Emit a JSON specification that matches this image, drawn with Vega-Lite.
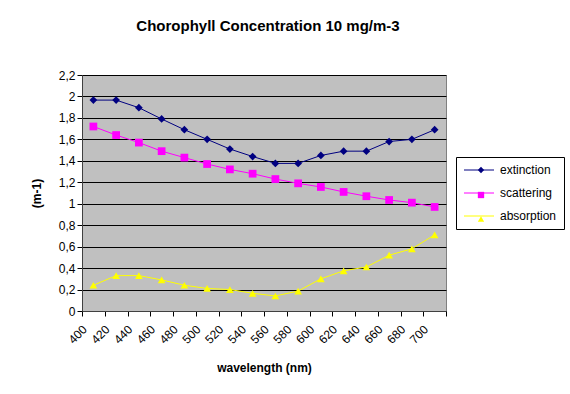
{
  "$schema": "https://vega.github.io/schema/vega-lite/v6.json",
  "width": 364,
  "height": 236,
  "autosize": {"type": "none"},
  "padding": {"left": 82, "top": 75, "right": 124, "bottom": 83},
  "background": "white",
  "title": {
    "text": "Chorophyll Concentration 10 mg/m-3",
    "font": "Liberation Sans",
    "fontSize": 15,
    "fontWeight": "bold",
    "color": "black",
    "anchor": "middle",
    "offset": 35,
    "dx": 4
  },
  "config": {
    "font": "Liberation Sans",
    "view": {"fill": "#C0C0C0", "stroke": "#808080", "strokeWidth": 1},
    "axis": {
      "labelFont": "Liberation Sans",
      "labelFontSize": 12,
      "labelColor": "black",
      "titleFont": "Liberation Sans",
      "titleFontSize": 12,
      "titleFontWeight": "bold",
      "titleColor": "black",
      "tickColor": "black",
      "domainColor": "#404040",
      "tickSize": 5
    }
  },
  "data": {
    "values": [
      {"wavelength": "400", "series": "extinction", "value": 1.966},
      {"wavelength": "420", "series": "extinction", "value": 1.966},
      {"wavelength": "440", "series": "extinction", "value": 1.895},
      {"wavelength": "460", "series": "extinction", "value": 1.79},
      {"wavelength": "480", "series": "extinction", "value": 1.69},
      {"wavelength": "500", "series": "extinction", "value": 1.6},
      {"wavelength": "520", "series": "extinction", "value": 1.51},
      {"wavelength": "540", "series": "extinction", "value": 1.44},
      {"wavelength": "560", "series": "extinction", "value": 1.376},
      {"wavelength": "580", "series": "extinction", "value": 1.376},
      {"wavelength": "600", "series": "extinction", "value": 1.45},
      {"wavelength": "620", "series": "extinction", "value": 1.49},
      {"wavelength": "640", "series": "extinction", "value": 1.49},
      {"wavelength": "660", "series": "extinction", "value": 1.58},
      {"wavelength": "680", "series": "extinction", "value": 1.6},
      {"wavelength": "700", "series": "extinction", "value": 1.69},
      {"wavelength": "400", "series": "scattering", "value": 1.72},
      {"wavelength": "420", "series": "scattering", "value": 1.64},
      {"wavelength": "440", "series": "scattering", "value": 1.57},
      {"wavelength": "460", "series": "scattering", "value": 1.49},
      {"wavelength": "480", "series": "scattering", "value": 1.43},
      {"wavelength": "500", "series": "scattering", "value": 1.37},
      {"wavelength": "520", "series": "scattering", "value": 1.32},
      {"wavelength": "540", "series": "scattering", "value": 1.28},
      {"wavelength": "560", "series": "scattering", "value": 1.23},
      {"wavelength": "580", "series": "scattering", "value": 1.19},
      {"wavelength": "600", "series": "scattering", "value": 1.156},
      {"wavelength": "620", "series": "scattering", "value": 1.11},
      {"wavelength": "640", "series": "scattering", "value": 1.07},
      {"wavelength": "660", "series": "scattering", "value": 1.035},
      {"wavelength": "680", "series": "scattering", "value": 1.01},
      {"wavelength": "700", "series": "scattering", "value": 0.97},
      {"wavelength": "400", "series": "absorption", "value": 0.24},
      {"wavelength": "420", "series": "absorption", "value": 0.33},
      {"wavelength": "440", "series": "absorption", "value": 0.33},
      {"wavelength": "460", "series": "absorption", "value": 0.29},
      {"wavelength": "480", "series": "absorption", "value": 0.24},
      {"wavelength": "500", "series": "absorption", "value": 0.21},
      {"wavelength": "520", "series": "absorption", "value": 0.2},
      {"wavelength": "540", "series": "absorption", "value": 0.165},
      {"wavelength": "560", "series": "absorption", "value": 0.14},
      {"wavelength": "580", "series": "absorption", "value": 0.186},
      {"wavelength": "600", "series": "absorption", "value": 0.3},
      {"wavelength": "620", "series": "absorption", "value": 0.375},
      {"wavelength": "640", "series": "absorption", "value": 0.41},
      {"wavelength": "660", "series": "absorption", "value": 0.52},
      {"wavelength": "680", "series": "absorption", "value": 0.58},
      {"wavelength": "700", "series": "absorption", "value": 0.71}
    ]
  },
  "encoding": {
    "x": {
      "field": "wavelength",
      "type": "ordinal",
      "sort": null,
      "scale": {"type": "band", "paddingInner": 0, "paddingOuter": 0},
      "axis": {
        "title": "wavelength (nm)",
        "labelAngle": -45,
        "labelAlign": "right",
        "labelBaseline": "middle",
        "tickBand": "extent",
        "labelOffset": -9,
        "labelPadding": 11,
        "titlePadding": 17,
        "grid": false
      }
    },
    "y": {
      "field": "value",
      "type": "quantitative",
      "scale": {"domain": [0, 2.2], "nice": false},
      "axis": {
        "title": "(m-1)",
        "values": [0, 0.2, 0.4, 0.6, 0.8, 1, 1.2, 1.4, 1.6, 1.8, 2, 2.2],
        "labelExpr": "replace(format(datum.value, '.1~f'), '.', ',')",
        "grid": true,
        "gridColor": "black",
        "gridOpacity": 1,
        "gridWidth": 1,
        "titlePadding": 15
      }
    }
  },
  "layer": [
    {
      "mark": {"type": "line", "strokeWidth": 1},
      "encoding": {
        "color": {
          "field": "series",
          "type": "nominal",
          "scale": {"domain": ["extinction", "scattering", "absorption"], "range": ["#000080", "#FF00FF", "#FFFF00"]},
          "legend": {
            "title": null,
            "orient": "none",
            "legendX": 374,
            "legendY": 82,
            "direction": "vertical",
            "strokeColor": "black",
            "fillColor": "white",
            "padding": 7,
            "labelFont": "Liberation Sans",
            "labelFontSize": 12,
            "labelColor": "black",
            "symbolType": "M-3,0H3",
            "symbolSize": 100,
            "symbolStrokeWidth": 1,
            "symbolOffset": 10,
            "labelOffset": 15,
            "rowPadding": 11
          }
        }
      }
    },
    {
      "mark": {"type": "point", "filled": true, "opacity": 1, "size": 60},
      "encoding": {
        "fill": {
          "field": "series",
          "type": "nominal",
          "sort": null,
          "scale": {"range": ["#000080", "#FF00FF", "#FFFF00"]},
          "legend": {
            "title": null,
            "orient": "none",
            "legendX": 374,
            "legendY": 82,
            "direction": "vertical",
            "strokeColor": "transparent",
            "fillColor": "transparent",
            "padding": 7,
            "labelFont": "Liberation Sans",
            "labelFontSize": 12,
            "labelExpr": "' '",
            "symbolSize": 40,
            "symbolOffset": 12,
            "labelOffset": 2,
            "rowPadding": 11
          }
        },
        "shape": {
          "field": "series",
          "type": "nominal",
          "sort": null,
          "scale": {"range": ["diamond", "square", "triangle-up"]}
        }
      }
    }
  ]
}
